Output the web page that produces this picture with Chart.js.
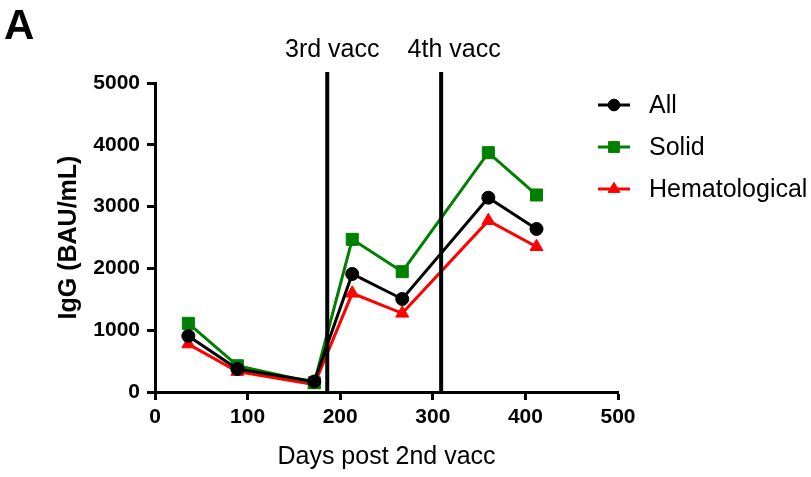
<!DOCTYPE html>
<html>
<head>
<meta charset="utf-8">
<script src="https://cdn.jsdelivr.net/npm/chart.js@4.4.0/dist/chart.umd.min.js"></script>
<style>
  html, body { margin: 0; padding: 0; background: #fff; }
  #wrap { width: 811px; height: 477px; position: relative; }
</style>
</head>
<body>
<div id="wrap"><canvas id="c" width="811" height="477"></canvas></div>
<script>
// data
const days = [36, 89, 172, 213, 267, 360, 412];
const allVals = [906, 372, 170, 1910, 1505, 3144, 2638];
const solidVals = [1111, 425, 150, 2470, 1947, 3872, 3188];
const hemeVals = [775, 330, 120, 1597, 1273, 2772, 2351];
const seriesNames = ['All', 'Solid', 'Hematological'];
const vaccDays = [186, 309];
const vaccLabels = ['3rd vacc', '4th vacc'];
const xTicks = [0, 100, 200, 300, 400, 500];
const yTicks = [0, 1000, 2000, 3000, 4000, 5000];

const FONT = '"Liberation Sans", Arial, Helvetica, sans-serif';
const toPoints = vals => vals.map((v, i) => ({ x: days[i], y: v }));

const mkSet = (label, vals, color, style, r) => ({
  label, data: toPoints(vals),
  borderColor: color, backgroundColor: color,
  borderWidth: 3, pointStyle: style, pointRadius: r, pointHoverRadius: r,
  pointBorderWidth: 1, pointBorderColor: color, tension: 0
});

// vertical vaccination lines, labels, panel letter and legend
const extras = {
  id: 'extras',
  afterDatasetsDraw(chart) {
    const { ctx, scales: { x, y } } = chart;
    ctx.save();
    ctx.strokeStyle = '#000';
    ctx.lineWidth = 4;
    ctx.fillStyle = '#000';
    ctx.font = '25px ' + FONT;
    ctx.textBaseline = 'alphabetic';
    vaccDays.forEach((d, i) => {
      const px = x.getPixelForValue(d);
      ctx.beginPath();
      ctx.moveTo(px, 72);
      ctx.lineTo(px, y.getPixelForValue(0));
      ctx.stroke();
      ctx.textAlign = 'center';
      ctx.fillText(vaccLabels[i], px + 5 + i * 8, 57);
    });

    // panel letter
    ctx.textAlign = 'left';
    ctx.font = 'bold 42px ' + FONT;
    ctx.fillText('A', 4, 39);

    // legend
    const rows = [105, 147, 189];
    chart.data.datasets.forEach((ds, i) => {
      const ry = rows[i];
      ctx.strokeStyle = ds.borderColor;
      ctx.lineWidth = 3;
      ctx.beginPath();
      ctx.moveTo(598, ry);
      ctx.lineTo(630, ry);
      ctx.stroke();
      ctx.fillStyle = ds.backgroundColor;
      ctx.lineWidth = 1;
      Chart.helpers.drawPoint(ctx, { pointStyle: ds.pointStyle, radius: ds.pointRadius * 0.9, borderWidth: 1 }, 614, ry);
      ctx.fillStyle = '#000';
      ctx.font = '25px ' + FONT;
      ctx.textBaseline = 'middle';
      ctx.fillText(seriesNames[i], 649, ry + 1);
    });
    ctx.restore();
  }
};

new Chart(document.getElementById('c'), {
  type: 'line',
  data: {
    datasets: [
      mkSet(seriesNames[0], allVals, '#000000', 'circle', 6.5),
      mkSet(seriesNames[1], solidVals, '#008000', 'rect', 8.5),
      mkSet(seriesNames[2], hemeVals, '#ff0000', 'triangle', 7.5)
    ]
  },
  options: {
    responsive: false,
    animation: false,
    layout: { padding: { left: 0, top: 83, right: 193, bottom: 0 } },
    plugins: { legend: { display: false }, tooltip: { enabled: false } },
    scales: {
      x: {
        type: 'linear', min: 0, max: 500,
        afterFit: s => { s.height = 85; },
        afterBuildTicks: s => { s.ticks = xTicks.map(v => ({ value: v })); },
        grid: { drawOnChartArea: false, drawTicks: true, tickLength: 8, tickWidth: 3, tickColor: '#000' },
        border: { display: true, width: 3, color: '#000' },
        ticks: { color: '#000', padding: 5, font: { family: FONT, size: 21, weight: 'bold' }, callback: v => v },
        title: { display: true, text: 'Days post 2nd vacc', color: '#000', padding: { top: 0, bottom: 5 }, font: { family: FONT, size: 25 } }
      },
      y: {
        min: 0, max: 5000,
        afterFit: s => { s.width = 155; },
        afterBuildTicks: s => { s.ticks = yTicks.map(v => ({ value: v })); },
        grid: { drawOnChartArea: false, drawTicks: true, tickLength: 8, tickWidth: 3, tickColor: '#000' },
        border: { display: true, width: 3, color: '#000' },
        ticks: { color: '#000', padding: 7, font: { family: FONT, size: 21, weight: 'bold' }, callback: v => v },
        title: { display: true, text: 'IgG (BAU/mL)', color: '#000', padding: { top: 54, bottom: 0 }, font: { family: FONT, size: 25, weight: 'bold' } }
      }
    }
  },
  plugins: [extras]
});
</script>
</body>
</html>
